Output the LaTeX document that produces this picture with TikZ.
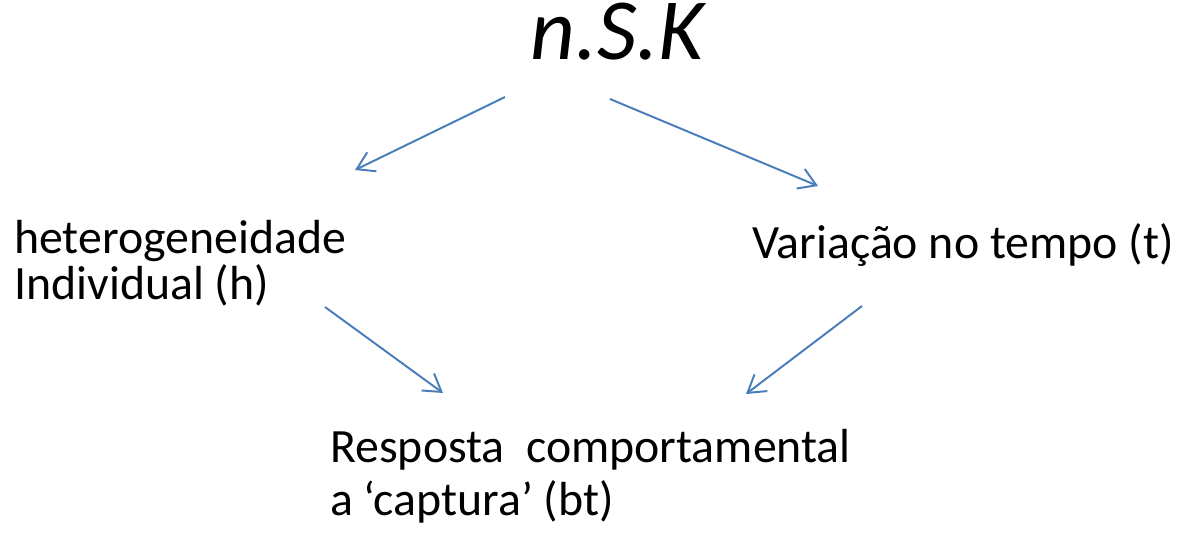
\documentclass[tikz,border=0pt]{standalone}
\usepackage{fontspec}
\setmainfont{Carlito}
\usetikzlibrary{arrows.meta}

\definecolor{arrowblue}{HTML}{4A7EBB}

\begin{document}
\begin{tikzpicture}[
            x=0.025cm, y=-0.025cm,
            every node/.style={inner sep=0pt, font=\fontsize{34}{32.7}\selectfont},
            link/.style={draw=arrowblue, line width=1.4pt,
                -{Straight Barb[length=12pt,width=15pt,line width=1.4pt]}}
        ]
            \useasboundingbox (0,0) rectangle (1178,533);

            % Texts (base anchor = last line)
            \node[anchor=base, text height=40pt, font=\fontsize{62}{66}\selectfont\itshape] (nsk) at (617,59) {n.S.K};
            \node[anchor=base west, align=left] (het) at (14,299) {heterogeneidade\\Individual (h)};
            \node[anchor=base west] (var) at (752,258) {Variação no tempo (t)};
            \node[anchor=base west, align=left, font=\fontsize{34}{37}\selectfont] (resp) at (330,515) {Resposta\ \ comportamental\\a ‘captura’ (bt)};

            % Arrow ends
            \coordinate (nskL) at (505,97);
            \coordinate (nskR) at (610,99);
            \coordinate (hetIn) at (355,170);
            \coordinate (varIn) at (818,186);
            \coordinate (hetOut) at (325,307);
            \coordinate (varOut) at (862,306);
            \coordinate (respL) at (443,393);
            \coordinate (respR) at (746,394);

            % Arrows
            \draw[link] (nskL) -- (hetIn);
            \draw[link] (nskR) -- (varIn);
            \draw[link] (hetOut) -- (respL);
            \draw[link] (varOut) -- (respR);
        \end{tikzpicture}
\end{document}
